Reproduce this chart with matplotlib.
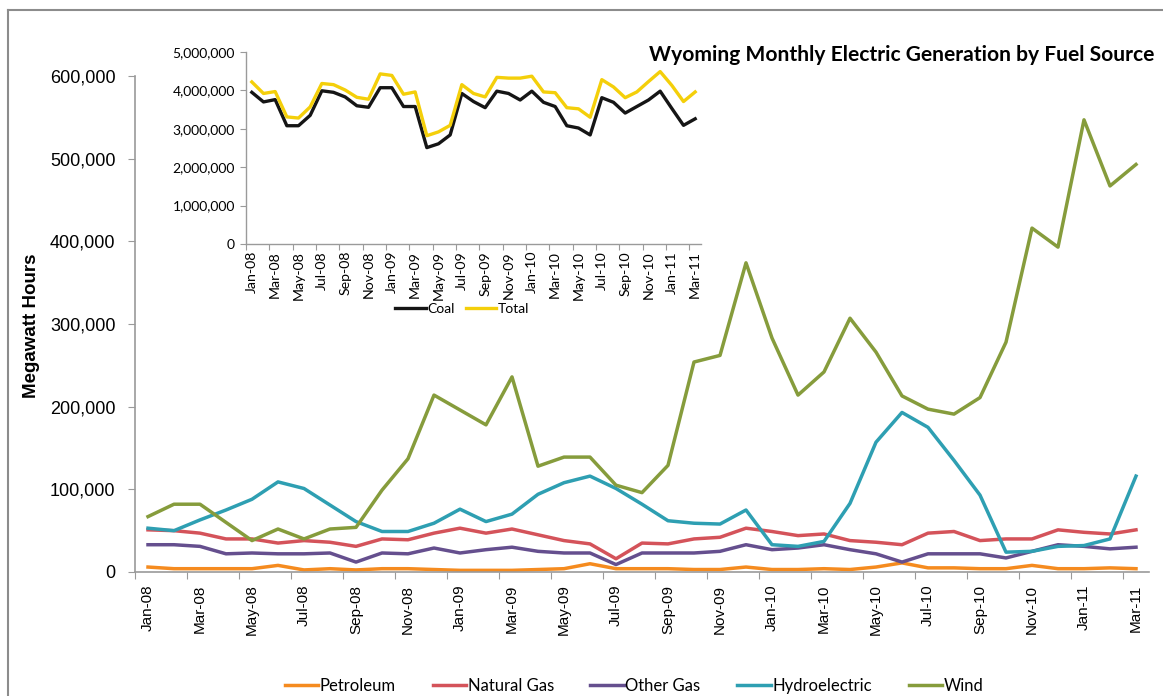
import numpy as np
import matplotlib
matplotlib.use("Agg")
import matplotlib.pyplot as plt
from matplotlib.ticker import FuncFormatter
from matplotlib.lines import Line2D

# ==========================================
# DATA (MWh)
# ==========================================
months = ['Jan-08', 'Feb-08', 'Mar-08', 'Apr-08', 'May-08', 'Jun-08', 'Jul-08', 'Aug-08',
          'Sep-08', 'Oct-08', 'Nov-08', 'Dec-08', 'Jan-09', 'Feb-09', 'Mar-09', 'Apr-09',
          'May-09', 'Jun-09', 'Jul-09', 'Aug-09', 'Sep-09', 'Oct-09', 'Nov-09', 'Dec-09',
          'Jan-10', 'Feb-10', 'Mar-10', 'Apr-10', 'May-10', 'Jun-10', 'Jul-10', 'Aug-10',
          'Sep-10', 'Oct-10', 'Nov-10', 'Dec-10', 'Jan-11', 'Feb-11', 'Mar-11']

petroleum = [6000, 4000, 4000, 4000, 4000, 8000, 2500, 4000, 2500, 4000, 4000, 3000,
             2000, 2000, 2000, 3000, 4000, 10000, 4000, 4000, 4000, 3000, 3000, 6000,
             3000, 3000, 4000, 3000, 6000, 11000, 5000, 5000, 4000, 4000, 8000, 4000,
             4000, 5000, 4000]
natural_gas = [51000, 50000, 47000, 40000, 40000, 35000, 38000, 36000, 31000, 40000, 39000, 47000,
               53000, 47000, 52000, 45000, 38000, 34000, 16000, 35000, 34000, 40000, 42000, 53000,
               49000, 44000, 46000, 38000, 36000, 33000, 47000, 49000, 38000, 40000, 40000, 51000,
               48000, 46000, 51000]
other_gas = [33000, 33000, 31000, 22000, 23000, 22000, 22000, 23000, 12000, 23000, 22000, 29000,
             23000, 27000, 30000, 25000, 23000, 23000, 9000, 23000, 23000, 23000, 25000, 33000,
             27000, 29000, 33000, 27000, 22000, 12000, 22000, 22000, 22000, 17000, 25000, 33000,
             31000, 28000, 30000]
hydro = [53000, 50000, 63000, 75000, 88000, 109000, 101000, 81000, 61000, 49000, 49000, 59000,
         76000, 61000, 70000, 94000, 108000, 116000, 101000, 82000, 62000, 59000, 58000, 75000,
         33000, 31000, 37000, 83000, 157000, 193000, 175000, 135000, 93000, 24000, 25000, 31000,
         32000, 40000, 116000]
wind = [67000, 82000, 82000, 60000, 38000, 52000, 40000, 52000, 54000, 99000, 137000, 214000,
        196000, 178000, 236000, 128000, 139000, 139000, 105000, 96000, 129000, 254000, 262000, 374000,
        283000, 214000, 242000, 307000, 266000, 213000, 197000, 191000, 211000, 278000, 416000, 393000,
        547000, 467000, 493000]

coal = [3950000, 3700000, 3760000, 3080000, 3080000, 3350000, 3990000, 3950000, 3830000, 3600000,
        3560000, 4070000, 4070000, 3580000, 3580000, 2510000, 2610000, 2840000, 3920000, 3710000,
        3550000, 3980000, 3920000, 3750000, 3980000, 3690000, 3580000, 3080000, 3020000, 2840000,
        3810000, 3690000, 3410000, 3580000, 3750000, 3980000, 3530000, 3090000, 3260000]
total = [4220000, 3920000, 3970000, 3310000, 3280000, 3570000, 4180000, 4150000, 4010000, 3820000,
         3770000, 4430000, 4390000, 3900000, 3960000, 2820000, 2920000, 3090000, 4150000, 3920000,
         3830000, 4340000, 4320000, 4320000, 4370000, 3960000, 3940000, 3550000, 3520000, 3300000,
         4280000, 4090000, 3810000, 3960000, 4230000, 4490000, 4130000, 3710000, 3960000]

series_names = ['Petroleum', 'Natural Gas', 'Other Gas', 'Hydroelectric', 'Wind']
series_colors = ['#F58B1F', '#D4535A', '#654F8E', '#2E9FB2', '#869C3C']

ARIAL = 'Liberation Sans'
CALIBRI = 'Lato'
AXIS_GREY = '#9A9A9A'

x = np.arange(len(months))
thousands = FuncFormatter(lambda v, p: f'{v:,.0f}')

fig = plt.figure(figsize=(11.63, 6.96), dpi=100)
W, H = 1163, 696

# ==========================================
# MAIN CHART
# ==========================================
ax = fig.add_axes([135 / W, 1 - 572 / H, (1149 - 135) / W, (572 - 76) / H])
for vals, name, col in zip([petroleum, natural_gas, other_gas, hydro, wind], series_names, series_colors):
    ax.plot(x, vals, color=col, linewidth=2.5, label=name)

ax.set_xlim(-0.5, len(months) - 0.5)
ax.set_ylim(0, 600000)
ax.set_yticks(np.arange(0, 600001, 100000))
ax.yaxis.set_major_formatter(thousands)

ax.set_xticks(np.arange(-0.5, len(months), 2))
ax.set_xticklabels([])
ax.set_xticks(x[::2], minor=True)
ax.set_xticklabels(months[::2], minor=True, rotation=90, fontfamily=ARIAL, fontsize=11)
ax.tick_params(axis='x', which='major', direction='out', length=5, color=AXIS_GREY)
ax.tick_params(axis='x', which='minor', length=0, pad=9)
ax.tick_params(axis='y', direction='out', length=5, color=AXIS_GREY, pad=9)
for lab in ax.get_yticklabels():
    lab.set_fontfamily(ARIAL)
    lab.set_fontsize(13)

for side in ['top', 'right']:
    ax.spines[side].set_visible(False)
for side in ['left', 'bottom']:
    ax.spines[side].set_color(AXIS_GREY)
    ax.spines[side].set_linewidth(1.2)

fig.text(32 / W, 1 - 326 / H, 'Megawatt Hours', rotation=90, ha='center', va='center',
         fontfamily=ARIAL, fontsize=13.5, fontweight='bold')

fig.text(649 / W, 1 - 55 / H, 'Wyoming Monthly Electric Generation by Fuel Source',
         ha='left', va='center', fontfamily=CALIBRI, fontsize=15.1, fontweight='bold')

handles = [Line2D([], [], color=c, linewidth=2.5) for c in series_colors]
fig.legend(handles, series_names, loc='center', bbox_to_anchor=(634 / W, 1 - 686 / H), ncol=5,
           frameon=False, prop={'family': CALIBRI, 'size': 12}, handlelength=2.0,
           handletextpad=0.1, columnspacing=2.2)

# ==========================================
# INSET: COAL vs TOTAL
# ==========================================
ax2 = fig.add_axes([246 / W, 1 - 244 / H, (701 - 246) / W, (244 - 52) / H])
ax2.set_facecolor('none')
ax2.plot(x, coal, color='#151515', linewidth=2.4, label='Coal')
ax2.plot(x, total, color='#F4CF0A', linewidth=2.4, label='Total')
ax2.set_xlim(-0.5, len(months) - 0.5)
ax2.set_ylim(0, 5000000)
ax2.set_yticks(np.arange(0, 5000001, 1000000))
ax2.yaxis.set_major_formatter(thousands)
ax2.set_xticks(np.arange(-0.5, len(months), 2))
ax2.set_xticklabels([])
ax2.set_xticks(x[::2], minor=True)
ax2.set_xticklabels(months[::2], minor=True, rotation=90, fontfamily=CALIBRI, fontsize=10.2)
ax2.tick_params(axis='x', which='major', direction='out', length=4, color=AXIS_GREY)
ax2.tick_params(axis='x', which='minor', length=0, pad=5)
ax2.tick_params(axis='y', direction='out', length=4, color=AXIS_GREY, pad=4)
for lab in ax2.get_yticklabels():
    lab.set_fontfamily(CALIBRI)
    lab.set_fontsize(10)
for side in ['top', 'right']:
    ax2.spines[side].set_visible(False)
for side in ['left', 'bottom']:
    ax2.spines[side].set_color(AXIS_GREY)
    ax2.spines[side].set_linewidth(1.0)

ax2.legend(loc='center', bbox_to_anchor=(462 / W, 1 - 309 / H), bbox_transform=fig.transFigure,
           ncol=2, frameon=False, prop={'family': CALIBRI, 'size': 10}, handlelength=2.2,
           handletextpad=0.1, columnspacing=0.8)

# outer chart frame (Excel chart area border)
fig.add_artist(Line2D([8 / W, 1], [1 - 10 / H, 1 - 10 / H], transform=fig.transFigure,
                      color='#8C8C8C', linewidth=1.5))
fig.add_artist(Line2D([8 / W, 8 / W], [0, 1 - 10 / H], transform=fig.transFigure,
                      color='#8C8C8C', linewidth=1.5))

fig.savefig('out.png', dpi=100, facecolor='white')
